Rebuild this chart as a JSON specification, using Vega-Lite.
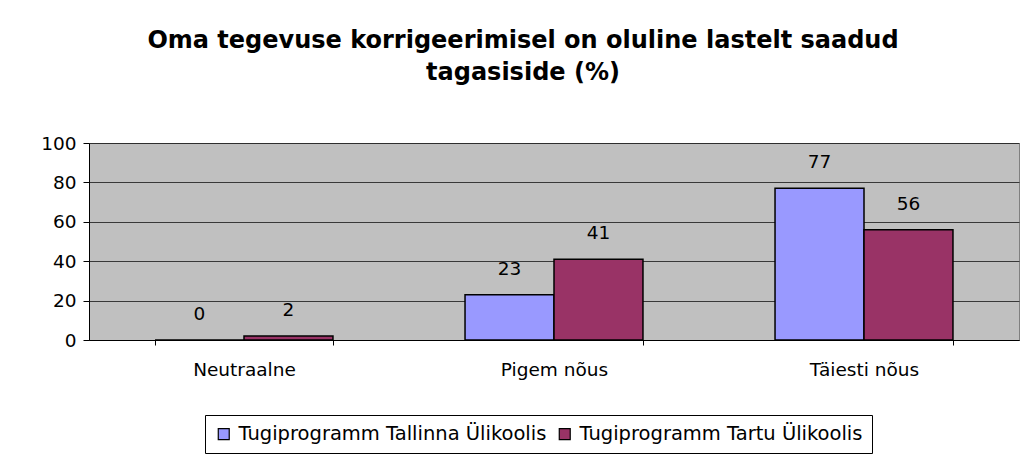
{
  "$schema": "https://vega.github.io/schema/vega-lite/v6.json",
  "width": 930,
  "height": 197,
  "autosize": {"type": "none"},
  "padding": {"left": 89, "top": 143, "right": 9, "bottom": 121},
  "background": "white",
  "title": {
    "text": ["Oma tegevuse korrigeerimisel on oluline lastelt saadud", "tagasiside (%)"],
    "font": "DejaVu Sans",
    "fontSize": 24,
    "fontWeight": "bold",
    "color": "black",
    "anchor": "middle",
    "frame": "group",
    "dx": -31,
    "offset": 49,
    "lineHeight": 32
  },
  "data": {
    "values": [
      {"kategooria": "Neutraalne", "programm": "Tugiprogramm Tallinna Ülikoolis", "protsent": 0},
      {"kategooria": "Neutraalne", "programm": "Tugiprogramm Tartu Ülikoolis", "protsent": 2},
      {"kategooria": "Pigem nõus", "programm": "Tugiprogramm Tallinna Ülikoolis", "protsent": 23},
      {"kategooria": "Pigem nõus", "programm": "Tugiprogramm Tartu Ülikoolis", "protsent": 41},
      {"kategooria": "Täiesti nõus", "programm": "Tugiprogramm Tallinna Ülikoolis", "protsent": 77},
      {"kategooria": "Täiesti nõus", "programm": "Tugiprogramm Tartu Ülikoolis", "protsent": 56}
    ]
  },
  "encoding": {
    "x": {
      "field": "kategooria",
      "type": "nominal",
      "sort": ["Neutraalne", "Pigem nõus", "Täiesti nõus"],
      "title": null,
      "scale": {"paddingInner": 0.426, "paddingOuter": 0.213},
      "axis": {
        "labelAngle": 0,
        "labelFont": "DejaVu Sans",
        "labelFontSize": 18.5,
        "labelColor": "black",
        "labelPadding": 15,
        "tickBand": "extent",
        "tickColor": "black",
        "tickSize": 5,
        "domainColor": "black",
        "grid": false
      }
    },
    "xOffset": {"field": "programm", "type": "nominal", "sort": ["Tugiprogramm Tallinna Ülikoolis", "Tugiprogramm Tartu Ülikoolis"], "scale": {"paddingInner": 0, "paddingOuter": 0}},
    "y": {
      "field": "protsent",
      "type": "quantitative",
      "title": null,
      "scale": {"domain": [0, 100], "nice": false},
      "axis": {
        "values": [0, 20, 40, 60, 80, 100],
        "labelFont": "DejaVu Sans",
        "labelFontSize": 18.5,
        "labelColor": "black",
        "labelPadding": 7,
        "tickColor": "black",
        "tickSize": 6,
        "domainColor": "black",
        "gridColor": "#202020",
        "gridOpacity": 0.85
      }
    }
  },
  "layer": [
    {
      "mark": {"type": "bar", "stroke": "black", "strokeWidth": 1.5},
      "encoding": {
        "color": {
          "field": "programm",
          "type": "nominal",
          "sort": ["Tugiprogramm Tallinna Ülikoolis", "Tugiprogramm Tartu Ülikoolis"],
          "scale": {"range": ["#9999FF", "#993366"]},
          "legend": {
            "title": null,
            "orient": "none",
            "legendX": 116,
            "legendY": 272,
            "direction": "horizontal",
            "symbolType": "square",
            "symbolSize": 120,
            "symbolStrokeColor": "black",
            "symbolStrokeWidth": 1.2,
            "labelFont": "DejaVu Sans",
            "labelFontSize": 19.5,
            "labelColor": "black",
            "labelLimit": 0,
            "columnPadding": 8,
            "labelOffset": 5,
            "strokeColor": "black",
            "padding": 9,
            "fillColor": "white"
          }
        }
      }
    },
    {
      "mark": {"type": "text", "dy": -26, "font": "DejaVu Sans", "fontSize": 18.5, "color": "black"},
      "encoding": {"text": {"field": "protsent", "type": "quantitative"}}
    }
  ],
  "config": {
    "view": {"fill": "#C0C0C0", "stroke": "#808080", "strokeWidth": 1},
    "axis": {"domainWidth": 1}
  }
}
